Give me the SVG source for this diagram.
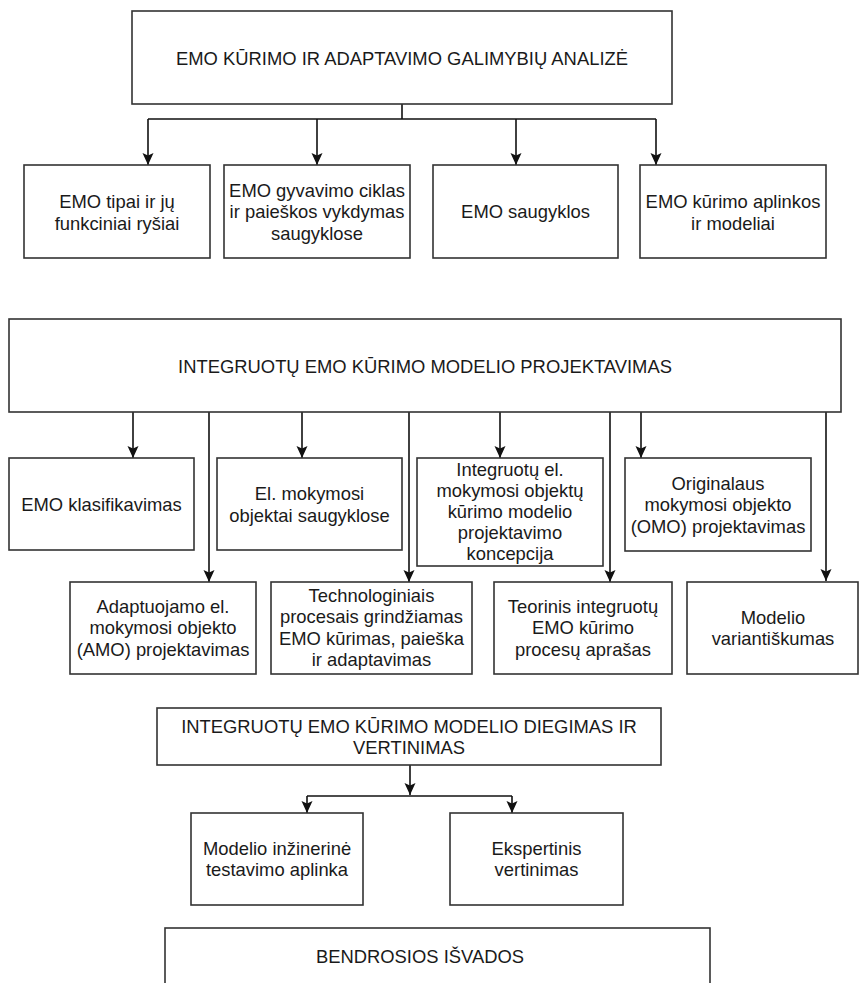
<svg xmlns="http://www.w3.org/2000/svg" width="859" height="983" viewBox="0 0 859 983">
<style>
.box{fill:#fff;stroke:#333;stroke-width:1.6}
.t{font-family:"Liberation Sans",Arial,sans-serif;font-size:18.4px;fill:#1a1a1a;text-anchor:middle}
.c{fill:none;stroke:#111;stroke-width:1.6}
.a{marker-end:url(#arr)}
</style>
<defs>
<marker id="arr" markerUnits="userSpaceOnUse" viewBox="0 0 12 12" markerWidth="12" markerHeight="12" refX="12" refY="6" orient="auto">
<path d="M0,0.5 L12,6 L0,11.5 L2.5,6 z" fill="#111"/>
</marker>
</defs>
<rect width="859" height="983" fill="#fff"/>

<g id="connectors">
<path class="c" d="M402,104 V119 M148,119 H656"/>
<path class="c a" d="M148,119 V165"/>
<path class="c a" d="M317,119 V165"/>
<path class="c a" d="M516,119 V165"/>
<path class="c a" d="M656,119 V165"/>

<path class="c a" d="M133,412 V458"/>
<path class="c a" d="M209,412 V582"/>
<path class="c a" d="M302,412 V458"/>
<path class="c a" d="M409,412 V582"/>
<path class="c a" d="M500,412 V458"/>
<path class="c a" d="M610,412 V582"/>
<path class="c a" d="M641,412 V458"/>
<path class="c a" d="M826,412 V581"/>

<path class="c a" d="M410,765 V795"/>
<path class="c" d="M307,796 H512"/>
<path class="c a" d="M307,796 V813"/>
<path class="c a" d="M512,796 V813"/>
</g>

<g id="n-analize">
<rect class="box" x="132" y="11" width="540" height="93"/>
<text class="t" x="402" y="65">EMO KŪRIMO IR ADAPTAVIMO GALIMYBIŲ ANALIZĖ</text>
</g>

<g id="n-tipai">
<rect class="box" x="24" y="165" width="186" height="93"/>
<text class="t" x="117" y="207.5">EMO tipai ir jų</text>
<text class="t" x="117" y="229.5">funkciniai ryšiai</text>
</g>
<g id="n-ciklas">
<rect class="box" x="224" y="165" width="186" height="93"/>
<text class="t" x="317" y="196.5">EMO gyvavimo ciklas</text>
<text class="t" x="317" y="218">ir paieškos vykdymas</text>
<text class="t" x="317" y="239.5">saugyklose</text>
</g>
<g id="n-saugyklos">
<rect class="box" x="433" y="165" width="185" height="93"/>
<text class="t" x="525.5" y="218">EMO saugyklos</text>
</g>
<g id="n-aplinkos">
<rect class="box" x="640" y="165" width="186" height="93"/>
<text class="t" x="733" y="207.5">EMO kūrimo aplinkos</text>
<text class="t" x="733" y="229.5">ir modeliai</text>
</g>

<g id="n-projektavimas">
<rect class="box" x="9" y="319" width="832" height="93"/>
<text class="t" x="425" y="373">INTEGRUOTŲ EMO KŪRIMO MODELIO PROJEKTAVIMAS</text>
</g>

<g id="n-klasifikavimas">
<rect class="box" x="9" y="458" width="185" height="92"/>
<text class="t" x="101.5" y="511">EMO klasifikavimas</text>
</g>
<g id="n-el-mokymosi">
<rect class="box" x="217" y="458" width="185" height="92"/>
<text class="t" x="309.5" y="500">El. mokymosi</text>
<text class="t" x="309.5" y="521.5">objektai saugyklose</text>
</g>
<g id="n-koncepcija">
<rect class="box" x="417" y="458" width="186" height="108"/>
<text class="t" x="510" y="476">Integruotų el.</text>
<text class="t" x="510" y="497">mokymosi objektų</text>
<text class="t" x="510" y="518">kūrimo modelio</text>
<text class="t" x="510" y="539">projektavimo</text>
<text class="t" x="510" y="560">koncepcija</text>
</g>
<g id="n-omo">
<rect class="box" x="625" y="458" width="186" height="93"/>
<text class="t" x="718" y="489.5">Originalaus</text>
<text class="t" x="718" y="511">mokymosi objekto</text>
<text class="t" x="718" y="532.5">(OMO) projektavimas</text>
</g>

<g id="n-amo">
<rect class="box" x="70" y="582" width="186" height="92"/>
<text class="t" x="163" y="612.5">Adaptuojamo el.</text>
<text class="t" x="163" y="634">mokymosi objekto</text>
<text class="t" x="163" y="655.5">(AMO) projektavimas</text>
</g>
<g id="n-technologiniai">
<rect class="box" x="271" y="582" width="201" height="92"/>
<text class="t" x="371.5" y="601.5">Technologiniais</text>
<text class="t" x="371.5" y="623">procesais grindžiamas</text>
<text class="t" x="371.5" y="644.5">EMO kūrimas, paieška</text>
<text class="t" x="371.5" y="666">ir adaptavimas</text>
</g>
<g id="n-teorinis">
<rect class="box" x="494" y="582" width="178" height="92"/>
<text class="t" x="583" y="612.5">Teorinis integruotų</text>
<text class="t" x="583" y="634">EMO kūrimo</text>
<text class="t" x="583" y="655.5">procesų aprašas</text>
</g>
<g id="n-variantiskumas">
<rect class="box" x="687" y="582" width="171" height="92"/>
<text class="t" x="773" y="623.5">Modelio</text>
<text class="t" x="773" y="645">variantiškumas</text>
</g>

<g id="n-diegimas">
<rect class="box" x="157" y="708" width="504" height="57"/>
<text class="t" x="409" y="733">INTEGRUOTŲ EMO KŪRIMO MODELIO DIEGIMAS IR</text>
<text class="t" x="409" y="754">VERTINIMAS</text>
</g>
<g id="n-testavimo">
<rect class="box" x="191" y="813" width="172" height="92"/>
<text class="t" x="277" y="854.5">Modelio inžinerinė</text>
<text class="t" x="277" y="876">testavimo aplinka</text>
</g>
<g id="n-ekspertinis">
<rect class="box" x="450" y="813" width="173" height="92"/>
<text class="t" x="536.5" y="854.5">Ekspertinis</text>
<text class="t" x="536.5" y="876">vertinimas</text>
</g>

<g id="n-isvados">
<rect class="box" x="165" y="928" width="545" height="80"/>
<text class="t" x="420" y="963">BENDROSIOS IŠVADOS</text>
</g>
</svg>
